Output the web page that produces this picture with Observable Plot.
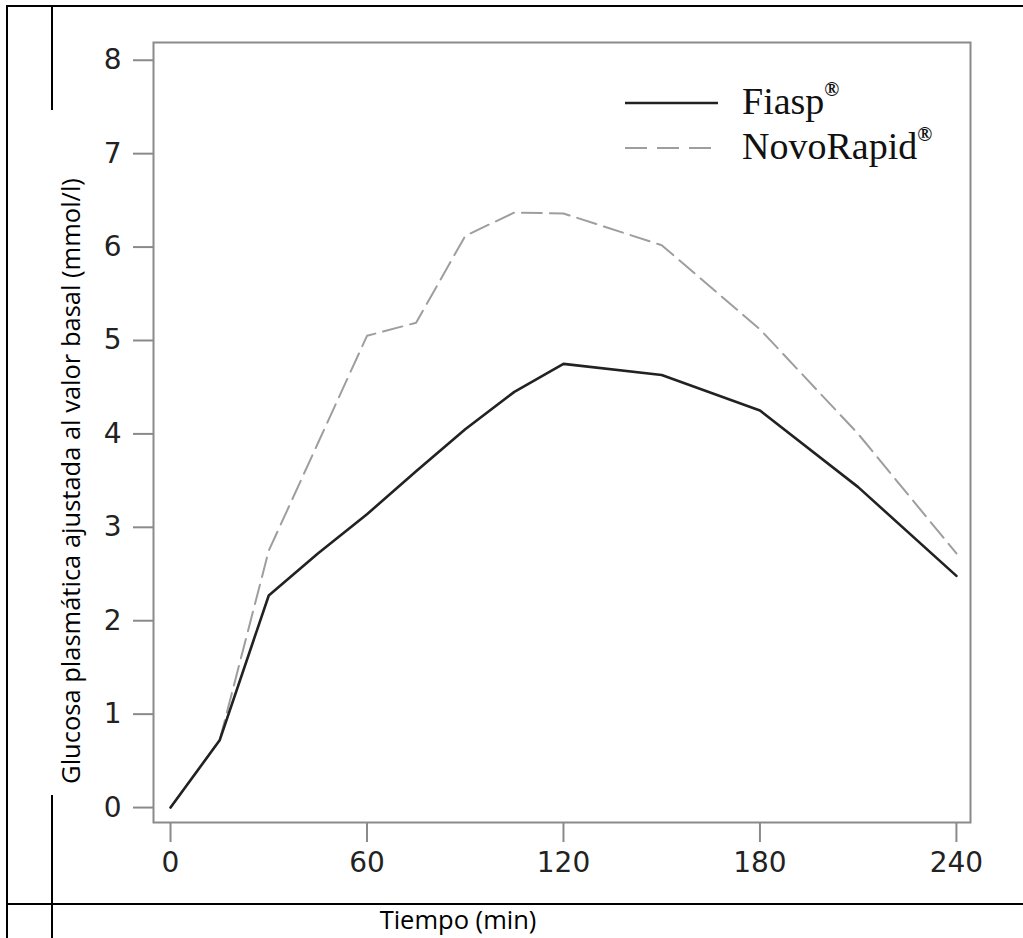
<!DOCTYPE html>
<html><head><meta charset="utf-8">
<script src="https://cdn.jsdelivr.net/npm/d3@7"></script>
<script src="https://cdn.jsdelivr.net/npm/@observablehq/plot@0.6"></script>
<style>
html,body{margin:0;padding:0;background:#fff;}
#wrap{position:relative;width:1023px;height:938px;overflow:hidden;background:#fff;}
#wrap > svg{position:absolute;left:0;top:0;}
.ln{position:absolute;background:#000;}
.title{position:absolute;font-family:"Open Sans",sans-serif;font-size:25.5px;color:#000;white-space:nowrap;text-align:center;line-height:30px;}
</style></head><body>
<div id="wrap"></div>
<script>
// ---- data ----
const times     = [0, 15, 30, 45, 60, 75, 90, 105, 120, 150, 180, 210, 240];
const fiasp     = [0, 0.72, 2.27, 2.72, 3.14, 3.6, 4.05, 4.45, 4.75, 4.63, 4.25, 3.43, 2.48];
const novoRapid = [0, 0.72, 2.75, 3.9, 5.05, 5.19, 6.12, 6.37, 6.36, 6.02, 5.12, 4.0, 2.72];
const seriesNames = ["Fiasp", "NovoRapid"];
const xTicks = [0, 60, 120, 180, 240];
const yTicks = [0, 1, 2, 3, 4, 5, 6, 7, 8];
const xLabel = "Tiempo (min)";
const yLabel = "Glucosa plasmática ajustada al valor basal (mmol/l)";

const rows = times.flatMap((t, i) => [
  {t, v: fiasp[i], s: seriesNames[0]},
  {t, v: novoRapid[i], s: seriesNames[1]}
]);

const wrap = document.getElementById("wrap");

const chart = Plot.plot({
  width: 1023, height: 938,
  marginLeft: 153, marginRight: 53, marginTop: 42, marginBottom: 116,
  x: {domain: [-5.2, 244.3]},
  y: {domain: [-0.16, 8.19]},
  style: {fontFamily: "'DejaVu Sans', sans-serif", fontSize: "28px", color: "#222", background: "transparent"},
  marks: [
    Plot.axisX({ticks: xTicks, tickSize: 20, tickPadding: 10, stroke: "#8a8a8a", strokeWidth: 2, fill: "#222", label: null}),
    Plot.axisY({ticks: yTicks, tickSize: 20, tickPadding: 12, stroke: "#8a8a8a", strokeWidth: 2, fill: "#222", label: null}),
    Plot.frame({stroke: "#8a8a8a", strokeWidth: 2}),
    Plot.line(rows.filter(d => d.s === seriesNames[1]), {x: "t", y: "v", stroke: "#9e9e9e", strokeWidth: 2, strokeDasharray: "20,8"}),
    Plot.line(rows.filter(d => d.s === seriesNames[0]), {x: "t", y: "v", stroke: "#222", strokeWidth: 2.6})
  ]
});
wrap.appendChild(chart);

// legend overlay
const ns = "http://www.w3.org/2000/svg";
const leg = document.createElementNS(ns, "svg");
leg.setAttribute("width", 1023); leg.setAttribute("height", 938);
leg.style.position = "absolute"; leg.style.left = "0"; leg.style.top = "0";
const legendStyles = [
  {stroke: "#222", width: 2.6, dash: null},
  {stroke: "#9e9e9e", width: 2, dash: "22,10"}
];
seriesNames.forEach((name, i) => {
  const ly = 103 + i * 45;
  const line = document.createElementNS(ns, "line");
  line.setAttribute("x1", 625); line.setAttribute("x2", 718);
  line.setAttribute("y1", ly); line.setAttribute("y2", ly);
  line.setAttribute("stroke", legendStyles[i].stroke);
  line.setAttribute("stroke-width", legendStyles[i].width);
  if (legendStyles[i].dash) line.setAttribute("stroke-dasharray", legendStyles[i].dash);
  leg.appendChild(line);
  const tx = document.createElementNS(ns, "text");
  tx.setAttribute("x", 742); tx.setAttribute("y", ly + 11);
  tx.setAttribute("font-family", "'Liberation Serif', serif");
  tx.setAttribute("font-size", 38); tx.setAttribute("fill", "#111");
  tx.appendChild(document.createTextNode(name));
  const sup = document.createElementNS(ns, "tspan");
  sup.setAttribute("font-size", 20); sup.setAttribute("font-weight", "bold"); sup.setAttribute("dy", -18);
  sup.textContent = "®";
  tx.appendChild(sup);
  leg.appendChild(tx);
});
wrap.appendChild(leg);

// outer table lines
function ln(l, t, w, h) {
  const d = document.createElement("div");
  d.className = "ln";
  Object.assign(d.style, {left: l + "px", top: t + "px", width: w + "px", height: h + "px"});
  wrap.appendChild(d);
}
ln(6, 5, 1017, 2);
ln(6, 5, 2, 933);
ln(6, 903, 1017, 2);
ln(51, 5, 2, 105);
ln(51, 795, 2, 143);

// axis titles
const yt = document.createElement("div");
yt.className = "title";
yt.textContent = yLabel;
Object.assign(yt.style, {left: (70 - 400) + "px", top: (481 - 15) + "px", width: "800px", transform: "rotate(-90deg)", transformOrigin: "50% 50%"});
wrap.appendChild(yt);
const xt = document.createElement("div");
xt.className = "title";
xt.textContent = xLabel;
Object.assign(xt.style, {left: (458 - 200) + "px", top: (919 - 15) + "px", width: "400px", lineHeight: "30px"});
wrap.appendChild(xt);
</script>
</body></html>
